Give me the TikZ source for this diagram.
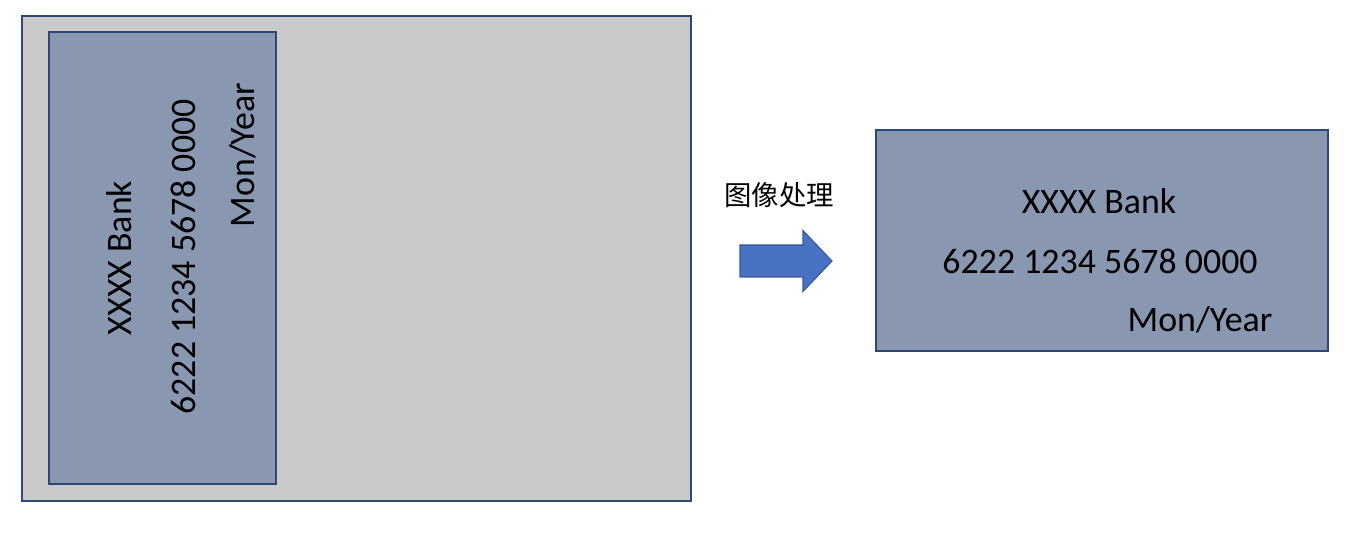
\documentclass[tikz,border=0pt]{standalone}
\usepackage{fontspec}
\setmainfont{Carlito}
\newfontfamily\cjk{Noto Sans CJK SC}
\usetikzlibrary{positioning, calc}
\definecolor{cardblue}{HTML}{8A97B0}
\definecolor{scangray}{HTML}{C9C9C9}
\definecolor{edgeblue}{HTML}{2F4778}
\definecolor{arrowblue}{HTML}{4A72C2}
\definecolor{arrowedge}{HTML}{35589A}

\begin{document}
\begin{tikzpicture}[box/.style={rectangle, 
      draw=edgeblue, 
      line width=1pt, 
      inner sep=0pt, 
      anchor=north west}, 
    cardtext/.style={inner sep=0pt, 
      anchor=base, 
      font=\fontsize{20.4}{24}\selectfont}]
  \useasboundingbox (0,0) rectangle (27.04,10.68);

  % scanned picture, card lying on its side
  \node [box, fill=scangray, 
    minimum width=13.38cm, 
    minimum height=9.70cm] (scan) at (0.42,10.38) {};

  \node [box, fill=cardblue, 
    minimum width=4.54cm, 
    minimum height=9.04cm] (oldcard) at (0.96,10.06) {};

  \node [cardtext, rotate=90] (oldbank) at (2.62,5.52) {XXXX Bank};
  \node [cardtext, rotate=90] (oldnumber) at (3.90,5.54) {6222 1234 5678 0000};
  \node [cardtext, rotate=90] (olddate) at (5.08,7.58) {Mon/Year};

  % processing step
  \node [inner sep=0pt, font=\cjk\fontsize{15.6}{18}\selectfont] 
    (steptitle) at (15.58,6.78) {图像处理};

  \coordinate (arrowtail) at (14.80,5.46);
  \coordinate (arrowtip) at (16.64,5.46);
  \draw [fill=arrowblue, draw=arrowedge, line width=0.6pt] 
    ($(arrowtail) + (0,0.32)$) -- ($(arrowtip) + (-0.58,0.32)$) 
    -- ($(arrowtip) + (-0.58,0.61)$) -- (arrowtip) 
    -- ($(arrowtip) + (-0.58,-0.61)$) -- ($(arrowtip) + (-0.58,-0.32)$) 
    -- ($(arrowtail) + (0,-0.32)$) -- cycle;

  % card after processing
  \node [box, fill=cardblue, 
    minimum width=9.04cm, 
    minimum height=4.42cm] (newcard) at (17.50,8.10) {};

  \node [cardtext] (newbank) at (21.98,6.40) {XXXX Bank};
  \node [cardtext] (newnumber) at (22.00,5.20) {6222 1234 5678 0000};
  \node [cardtext] (newdate) at (24.00,4.04) {Mon/Year};

\end{tikzpicture}
\end{document}
